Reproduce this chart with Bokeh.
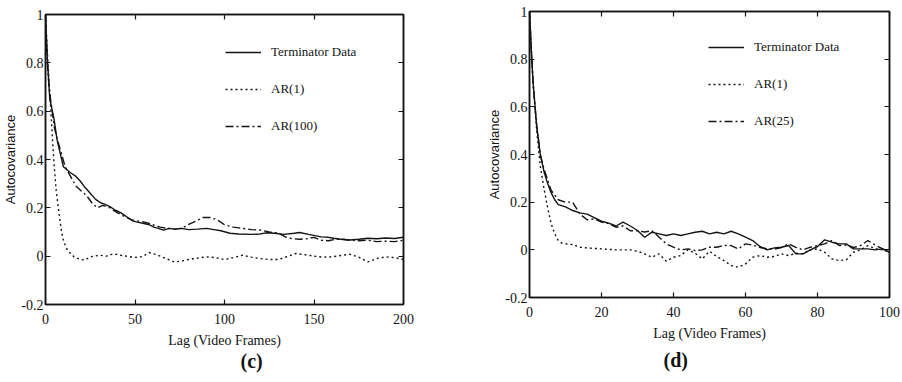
from bokeh.plotting import figure
from bokeh.models import Range1d, LinearAxis, FixedTicker, Title
from bokeh.layouts import row, column
from bokeh.embed import file_html
from bokeh.resources import INLINE

# ---------------- data: panel (c) ----------------
c_term_lag = [0, 1, 2.4, 4.7, 6.5, 10, 14, 17, 19.5, 22, 25, 28, 31, 33, 36, 39, 42, 46, 49, 52,
              55, 58, 60.5, 63, 66, 69, 72, 76, 80, 85, 90, 94, 98, 103, 108, 115, 120, 124, 128,
              133, 139, 142, 147, 154, 158, 161, 165, 170, 175, 180, 185, 190, 195, 200]
c_term_val = [1.0, 0.82, 0.65, 0.57, 0.48, 0.37, 0.345, 0.33, 0.31, 0.285, 0.26, 0.235, 0.22,
              0.215, 0.205, 0.19, 0.18, 0.16, 0.145, 0.14, 0.135, 0.13, 0.12, 0.115, 0.108, 0.115,
              0.112, 0.115, 0.11, 0.112, 0.115, 0.11, 0.105, 0.095, 0.092, 0.09, 0.092, 0.097,
              0.095, 0.09, 0.095, 0.098, 0.09, 0.08, 0.078, 0.074, 0.07, 0.067, 0.07, 0.074, 0.072,
              0.075, 0.073, 0.078]

c_ar1_lag = [0, 1, 2, 3, 4, 5, 6, 7.5, 9, 10, 11.5, 13, 16, 19.5, 22, 25, 30, 34, 38, 42, 45, 50,
             54, 58, 62, 65, 68, 72, 76, 80, 85, 90, 95, 100, 105, 110, 115, 120, 125, 130, 135,
             140, 145, 150, 155, 160, 165, 170, 175, 180, 185, 190, 195, 200]
c_ar1_val = [1.0, 0.85, 0.72, 0.6, 0.47, 0.36, 0.27, 0.18, 0.1, 0.067, 0.035, 0.018, -0.003,
             -0.014, -0.016, -0.003, 0.004, 0.0, 0.01, 0.004, 0.0, -0.005, -0.002, 0.015, 0.006,
             -0.003, -0.012, -0.024, -0.02, -0.014, -0.008, -0.003, -0.006, -0.014, -0.006, 0.004,
             -0.004, -0.01, -0.014, -0.014, -0.002, 0.011, 0.006, 0.0, -0.004, -0.003, 0.003,
             0.008, -0.004, -0.024, -0.01, -0.003, -0.006, -0.014]

c_ar100_lag = [0, 1, 2, 3, 5, 7.5, 11, 14, 17, 20, 23, 26, 29, 32, 36, 40, 44, 48, 52, 56, 60, 64,
               68, 72, 76, 80, 84, 88, 92, 96, 100, 105, 110, 115, 120, 125, 130, 134, 138, 142,
               146, 150, 154, 158, 162, 166, 170, 175, 180, 185, 190, 195, 200]
c_ar100_val = [1.0, 0.8, 0.7, 0.64, 0.53, 0.46, 0.37, 0.33, 0.29, 0.27, 0.25, 0.22, 0.2, 0.21,
               0.2, 0.18, 0.165, 0.15, 0.145, 0.14, 0.13, 0.12, 0.115, 0.112, 0.115, 0.132, 0.145,
               0.16, 0.16, 0.15, 0.13, 0.12, 0.115, 0.11, 0.108, 0.1, 0.095, 0.08, 0.072, 0.07,
               0.072, 0.078, 0.066, 0.064, 0.07, 0.07, 0.066, 0.064, 0.066, 0.06, 0.062, 0.06,
               0.066]

# ---------------- data: panel (d) ----------------
d_term_lag = [0, 0.5, 1, 2, 3, 4, 5, 6, 7, 8, 10, 12, 14, 16, 18, 20, 22, 24, 26, 28, 30, 32, 34,
              36, 38, 40, 42, 44, 46, 48, 50, 52, 54, 56, 58, 60, 62, 64, 66, 68, 70, 72, 74, 76,
              78, 80, 82, 84, 86, 88, 90, 92, 94, 96, 98, 100]
d_term_val = [1.0, 0.84, 0.7, 0.52, 0.4, 0.33, 0.28, 0.24, 0.21, 0.19, 0.18, 0.165, 0.155, 0.15,
              0.135, 0.12, 0.112, 0.1, 0.116, 0.1, 0.081, 0.053, 0.074, 0.067, 0.06, 0.067, 0.06,
              0.067, 0.074, 0.078, 0.067, 0.074, 0.067, 0.078, 0.067, 0.053, 0.039, 0.014, 0.0,
              0.008, 0.011, 0.018, -0.017, -0.017, 0.0, 0.014, 0.042, 0.032, 0.025, 0.025, 0.004,
              0.004, 0.004, 0.0, 0.004, -0.01]

d_ar1_lag = [0, 1, 2, 3, 4, 5, 6, 7, 8, 9, 10, 12, 14, 16, 20, 24, 28, 30, 32, 34, 36, 38, 40, 42,
             44, 46, 48, 50, 52, 54, 56, 58, 60, 62, 64, 66, 68, 70, 72, 74, 76, 78, 80, 82, 84,
             86, 88, 90, 92, 94, 96, 98, 100]
d_ar1_val = [1.0, 0.7, 0.5, 0.35, 0.26, 0.18, 0.11, 0.067, 0.039, 0.028, 0.025, 0.022, 0.011,
             0.008, 0.004, 0.0, 0.0, -0.006, -0.017, -0.031, -0.017, -0.048, -0.031, -0.024, 0.0,
             -0.014, -0.038, -0.006, -0.028, -0.045, -0.066, -0.073, -0.059, -0.031, -0.024,
             -0.031, -0.028, -0.017, -0.024, -0.014, -0.017, 0.0, 0.004, -0.01, -0.038, -0.045,
             -0.042, -0.01, 0.0, 0.018, 0.005, 0.0, -0.01]

d_ar25_lag = [0, 0.5, 1, 2, 3, 4, 6, 8, 10, 12, 14, 16, 18, 20, 22, 24, 26, 28, 30, 32, 34, 36, 38,
              40, 42, 44, 46, 48, 50, 52, 54, 56, 58, 60, 62, 64, 66, 68, 70, 72, 74, 76, 78, 80,
              82, 84, 86, 88, 90, 92, 94, 96, 98, 100]
d_ar25_val = [1.0, 0.84, 0.7, 0.52, 0.4, 0.34, 0.25, 0.21, 0.2, 0.2, 0.15, 0.126, 0.13, 0.116,
              0.11, 0.095, 0.1, 0.08, 0.08, 0.075, 0.08, 0.053, 0.025, 0.011, 0.0, 0.004, -0.003,
              0.0, 0.011, 0.011, 0.018, 0.018, 0.004, 0.025, 0.02, 0.01, 0.005, 0.003, 0.01,
              0.025, 0.01, 0.0, 0.011, 0.018, 0.025, 0.039, 0.018, 0.02, 0.01, 0.018, 0.039,
              0.02, 0.005, -0.01]

# ---------------- ticks and labels ----------------
y_ticks = [-0.2, 0, 0.2, 0.4, 0.6, 0.8, 1]
y_tick_labels = ["-0.2", "0", "0.2", "0.4", "0.6", "0.8", "1"]
c_x_ticks = [0, 50, 100, 150, 200]
d_x_ticks = [0, 20, 40, 60, 80, 100]
series_names_c = ["Terminator Data", "AR(1)", "AR(100)"]
series_names_d = ["Terminator Data", "AR(1)", "AR(25)"]
x_title = "Lag (Video Frames)"
y_title = "Autocovariance"

SERIF = "Liberation Serif"
SANS = "Liberation Sans"
INK = "#141414"


def style_axis(ax, ticks, show_labels=True, labels=None):
    ax.ticker = FixedTicker(ticks=ticks)
    ax.major_tick_in = 5
    ax.major_tick_out = 0
    ax.minor_tick_line_color = None
    ax.axis_line_color = INK
    ax.axis_line_width = 1.5
    ax.major_tick_line_color = INK
    ax.major_tick_line_width = 1.2
    if show_labels:
        ax.major_label_text_font = SERIF
        ax.major_label_text_font_size = "14px"
        ax.major_label_text_color = INK
        if labels is not None:
            ax.major_label_overrides = {t: l for t, l in zip(ticks, labels)}
    else:
        ax.major_label_text_font_size = "0px"
        ax.major_label_text_color = None
        ax.major_label_standoff = 0


def make_panel(width, x_end, x_ticks, borders, series, names, legend_loc, tag, tag_offset,
               tag_standoff):
    bl, br, bt, bb = borders
    p = figure(width=width, height=382, x_range=Range1d(0, x_end), y_range=Range1d(-0.2, 1),
               output_backend="svg", toolbar_location=None,
               min_border_left=bl, min_border_right=br, min_border_top=bt, min_border_bottom=bb)
    p.grid.visible = False
    p.outline_line_color = INK
    p.outline_line_width = 1.5
    p.background_fill_color = "white"
    p.border_fill_color = "white"

    styles = [dict(line_dash="solid"), dict(line_dash="2 3"), dict(line_dash="8 3 2 3")]
    for (lag, val), name, st in zip(series, names, styles):
        p.line(lag, val, line_color=INK, line_width=1.4, legend_label=name, **st)

    xa = p.xaxis[0]
    style_axis(xa, x_ticks)
    xa.major_label_standoff = 9
    xa.axis_label = x_title
    xa.axis_label_text_font = SERIF
    xa.axis_label_text_font_size = "14px"
    xa.axis_label_text_font_style = "normal"
    xa.axis_label_text_color = INK
    xa.axis_label_standoff = 6

    ya = p.yaxis[0]
    style_axis(ya, y_ticks, labels=y_tick_labels)
    ya.major_label_standoff = 2
    ya.axis_label = y_title
    ya.axis_label_text_font = SANS
    ya.axis_label_text_font_size = "13px"
    ya.axis_label_text_font_style = "normal"
    ya.axis_label_text_color = INK
    ya.axis_label_standoff = 0

    ra = LinearAxis()
    style_axis(ra, y_ticks, show_labels=False)
    p.add_layout(ra, "right")
    ta = LinearAxis()
    style_axis(ta, x_ticks, show_labels=False)
    p.add_layout(ta, "above")

    lg = p.legend[0]
    lg.location = legend_loc
    lg.border_line_color = None
    lg.background_fill_alpha = 0
    lg.padding = 0
    lg.margin = 0
    lg.spacing = 17
    lg.glyph_width = 36
    lg.glyph_height = 20
    lg.label_height = 20
    lg.label_standoff = 10
    lg.label_text_font = SERIF
    lg.label_text_font_size = "13px"
    lg.label_text_color = INK

    t = Title(text=tag, align="left", offset=tag_offset, standoff=tag_standoff,
              text_font=SERIF, text_font_size="20px",
              text_font_style="bold", text_color=INK)
    p.add_layout(t, "below")
    return p


pc = make_panel(450, 200, c_x_ticks, (45, 47, 14, 78),
                [(c_term_lag, c_term_val), (c_ar1_lag, c_ar1_val), (c_ar100_lag, c_ar100_val)],
                series_names_c, (180, 168), "(c)", 195, -5)
pd_ = make_panel(452, 100, d_x_ticks, (79, 13, 11, 85),
                 [(d_term_lag, d_term_val), (d_ar1_lag, d_ar1_val), (d_ar25_lag, d_ar25_val)],
                 series_names_d, (179, 166), "(d)", 134, 6)

layout = row(column(pc), column(pd_), spacing=0)
open("out.html", "w").write(file_html(layout, INLINE))
